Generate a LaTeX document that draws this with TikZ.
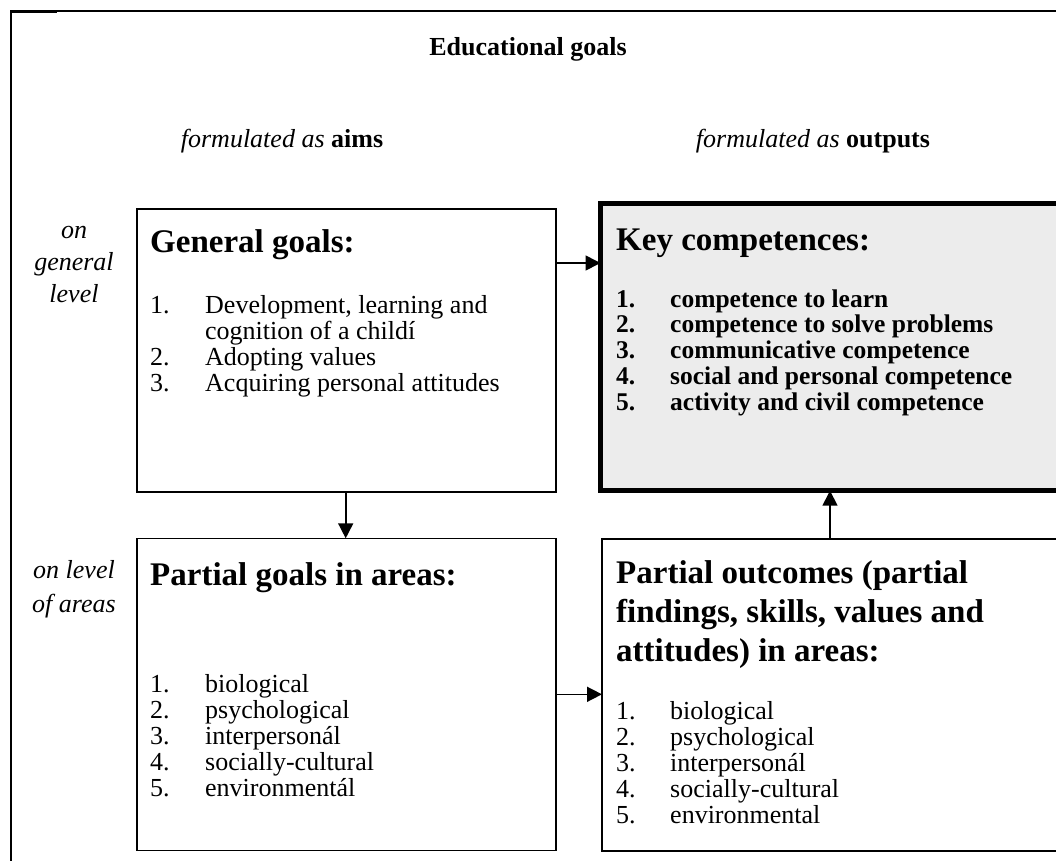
\documentclass[tikz,border=0pt]{standalone}
\usepackage{fontspec}
\setmainfont{Liberation Serif}
\usetikzlibrary{arrows.meta}
\definecolor{keygray}{HTML}{ECECEC}
\begin{document}
\begin{tikzpicture}[x=1pt,y=-1pt,
  box/.style={draw,line width=1.6pt,inner sep=0pt,outer sep=0pt,anchor=north west},
  keybox/.style={draw,line width=4.5pt,fill=keygray,inner sep=0pt,outer sep=0pt,anchor=north west},
  arr/.style={-{Triangle[length=15pt,width=15pt]},line width=1.6pt},
  frame/.style={line width=1.8pt},
  body/.style={inner sep=0pt,anchor=base west,font=\fontsize{26}{30}\selectfont},
  bodyb/.style={body,font=\fontsize{25.5}{30}\selectfont\bfseries},
  head/.style={inner sep=0pt,anchor=base west,font=\fontsize{33}{39}\selectfont\bfseries},
  side/.style={inner sep=0pt,anchor=base,font=\fontsize{26}{33}\selectfont\itshape},
  title/.style={inner sep=0pt,anchor=base,font=\fontsize{26}{30}\selectfont\bfseries},
  sub/.style={inner sep=0pt,anchor=base,font=\fontsize{26}{30}\selectfont}
]
\useasboundingbox (0,0) rectangle (1056,860);
% outer frame
\coordinate (fbl) at (11,862);
\coordinate (ftl) at (11,10.8);
\coordinate (ftr) at (1060,10.8);
\draw[frame] (fbl) -- (ftl) -- (ftr);
\coordinate (fta) at (10,11.5);
\coordinate (ftb) at (57,11.5);
\draw[line width=2.6pt] (fta) -- (ftb);

% boxes
\node[box,minimum width=419pt,minimum height=283pt] (g) at (137,209) {};
\node[keybox,minimum width=470pt,minimum height=287pt] (k) at (600.5,203.7) {};
\node[box,minimum width=419pt,minimum height=312pt] (pg) at (137,538.3) {};
\node[box,minimum width=470pt,minimum height=312pt] (po) at (602,539) {};

% arrows
\draw[arr] (g.east |- 0,263) -- (k.west |- 0,263);
\draw[arr] (g.south -| 345.7,0) -- (pg.north -| 345.7,0);
\draw[arr] (po.north -| 830,0) -- (k.south -| 830,0);
\draw[arr] (pg.east |- 0,694.3) -- (po.west |- 0,694.3);

% titles
\node[title] (t) at (528,55) {Educational goals};
\node[sub] (fa) at (282,147) {\textit{formulated as} \textbf{aims}};
\node[sub] (fo) at (813,147) {\textit{formulated as} \textbf{outputs}};
\node[side] (sg1) at (74,238) {on};
\node[side] (sg2) at (74,270) {general};
\node[side] (sg3) at (74,302) {level};
\node[side] (sa1) at (74,578) {on level};
\node[side] (sa2) at (74,612) {of areas};

% general goals
\node[head] (gh) at (150,252) {General goals:};
\node[body] (g1n) at (150,313) {1.};
\node[body] (g1t) at (205,313) {Development, learning and};
\node[body] (g1u) at (205,339) {cognition of a childí};
\node[body] (g2n) at (150,365) {2.};
\node[body] (g2t) at (205,365) {Adopting values};
\node[body] (g3n) at (150,391) {3.};
\node[body] (g3t) at (205,391) {Acquiring personal attitudes};

% key competences
\node[head] (kh) at (616,250) {Key competences:};
\foreach \i/\t [count=\n] in {0/competence to learn,1/competence to solve problems,2/communicative competence,3/social and personal competence,4/activity and civil competence}{
  \node[bodyb] (kn\n) at (616,307+25.8*\i) {\n.};
  \node[bodyb] (kt\n) at (670,307+25.8*\i) {\t};
}

% partial goals
\node[head] (ph) at (150,585) {Partial goals in areas:};
\foreach \i/\t [count=\n] in {0/biological,1/psychological,2/interpersonál,3/socially-cultural,4/environmentál}{
  \node[body] (pn\n) at (150,692+26*\i) {\n.};
  \node[body] (pt\n) at (205,692+26*\i) {\t};
}

% partial outcomes
\node[head] (oh1) at (616,583) {Partial outcomes (partial};
\node[head] (oh2) at (616,622) {findings, skills, values and};
\node[head] (oh3) at (616,661) {attitudes) in areas:};
\foreach \i/\t [count=\n] in {0/biological,1/psychological,2/interpersonál,3/socially-cultural,4/environmental}{
  \node[body] (on\n) at (616,719+26*\i) {\n.};
  \node[body] (ot\n) at (670,719+26*\i) {\t};
}
\end{tikzpicture}
\end{document}
